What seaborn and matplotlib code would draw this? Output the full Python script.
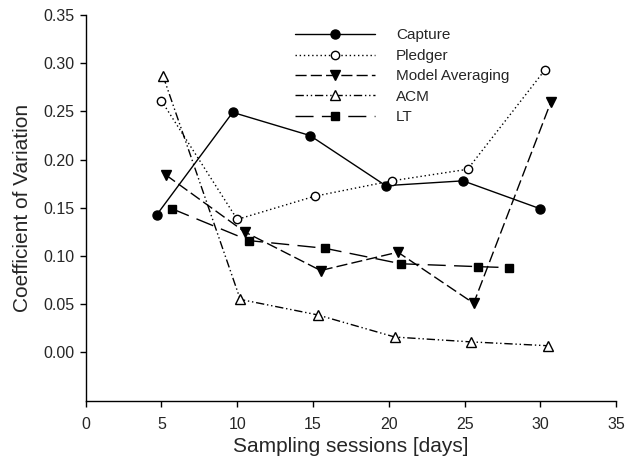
import matplotlib
matplotlib.use("Agg")
import matplotlib.pyplot as plt
import seaborn as sns
import pandas as pd

# ---- data ----
capture_x = [4.7, 9.7, 14.8, 19.8, 24.9, 30.0]
capture_y = [0.143, 0.249, 0.225, 0.173, 0.178, 0.149]

pledger_x = [5.0, 10.0, 15.1, 20.2, 25.2, 30.3]
pledger_y = [0.261, 0.138, 0.162, 0.178, 0.190, 0.293]

ma_x = [5.3, 10.5, 15.5, 20.6, 25.6, 30.7]
ma_y = [0.184, 0.125, 0.085, 0.104, 0.051, 0.260]

acm_x = [5.1, 10.2, 15.3, 20.4, 25.4, 30.5]
acm_y = [0.287, 0.055, 0.039, 0.016, 0.011, 0.007]

lt_x = [5.7, 10.8, 15.8, 20.8, 25.9, 27.9]
lt_y = [0.149, 0.116, 0.108, 0.092, 0.089, 0.088]

series_names = ["Capture", "Pledger", "Model Averaging", "ACM", "LT"]
x_ticks = [0, 5, 10, 15, 20, 25, 30, 35]
y_ticks = [0.00, 0.05, 0.10, 0.15, 0.20, 0.25, 0.30, 0.35]

sns.set_theme(style="ticks")
plt.rcParams["font.family"] = ["Liberation Sans", "DejaVu Sans"]

fig = plt.figure(figsize=(6.30, 4.63), dpi=100)
ax = fig.add_axes([0.136, 0.1346, 0.842, 0.833])

styles = {
    "Capture": dict(linestyle="-", marker="o", mfc="black", ms=6.5),
    "Pledger": dict(linestyle=(0, (1, 2)), marker="o", mfc="white", ms=6),
    "Model Averaging": dict(linestyle=(0, (8, 3)), marker="v", mfc="black", ms=7),
    "ACM": dict(linestyle=(0, (6, 2, 1, 2, 1, 2)), marker="^", mfc="white", ms=7),
    "LT": dict(linestyle=(0, (13, 6)), marker="s", mfc="black", ms=6),
}
data = {
    "Capture": (capture_x, capture_y),
    "Pledger": (pledger_x, pledger_y),
    "Model Averaging": (ma_x, ma_y),
    "ACM": (acm_x, acm_y),
    "LT": (lt_x, lt_y),
}

for name in series_names:
    xs, ys = data[name]
    df = pd.DataFrame({"x": xs, "y": ys})
    st = styles[name]
    sns.lineplot(data=df, x="x", y="y", ax=ax, sort=False, color="black",
                 linewidth=1.0, linestyle=st["linestyle"], marker=st["marker"],
                 markerfacecolor=st["mfc"], markeredgecolor="black",
                 markeredgewidth=1.0, markersize=st["ms"], label=name)

ax.set_xlim(0, 35)
ax.set_ylim(-0.05, 0.35)
ax.set_xticks(x_ticks)
ax.set_yticks(y_ticks)
ax.set_yticklabels([f"{v:.2f}" for v in y_ticks])
ax.tick_params(axis="both", labelsize=11.5, length=4, width=1, color="black",
               direction="out")
ax.tick_params(axis="x", pad=8)
ax.tick_params(axis="y", pad=4)
for s in ["top", "right"]:
    ax.spines[s].set_visible(False)
for s in ["left", "bottom"]:
    ax.spines[s].set_linewidth(1.0)
    ax.spines[s].set_color("black")

ax.set_xlabel("Sampling sessions [days]", fontsize=15, labelpad=3)
ax.set_ylabel("Coefficient of Variation", fontsize=15, labelpad=8)

ax.legend(loc="upper left", bbox_to_anchor=(0.395, 0.965), frameon=False,
          fontsize=11, handlelength=5.2, handletextpad=1.4, labelspacing=0.42,
          borderaxespad=0, borderpad=0, numpoints=1)

fig.savefig("out.png", dpi=100)
